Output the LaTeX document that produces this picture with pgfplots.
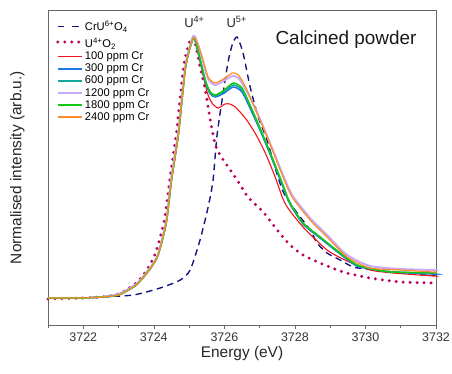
\documentclass[border=0pt]{standalone}
\usepackage{pgfplots}
\pgfplotsset{compat=1.18}
\usepackage{fontspec}
\setmainfont{Liberation Sans}
\definecolor{cnavy}{RGB}{20,20,130}
\definecolor{cuo}{RGB}{185,0,95}
\definecolor{cred}{RGB}{240,20,20}
\definecolor{cblue}{RGB}{30,120,230}
\definecolor{cteal}{RGB}{20,165,155}
\definecolor{clilac}{RGB}{200,170,245}
\definecolor{cgreen}{RGB}{20,200,20}
\definecolor{corange}{RGB}{255,140,40}
\begin{document}
\begin{tikzpicture}[x=1bp,y=1bp]
\useasboundingbox (0,0) rectangle (452,373);
\begin{axis}[
  at={(48bp,48bp)}, anchor=south west,
  scale only axis, width=388bp, height=315bp,
  xmin=3721, xmax=3732, ymin=0, ymax=3.15,
  clip=false,
  xtick={3722,3724,...,3732}, minor xtick={3721,3723,...,3731},
  ytick=\empty,
  tick align=outside, xtick pos=bottom,
  major tick length=4bp, minor tick length=3bp,
  axis line style={draw=black!60, line width=0.8pt},
  every tick/.style={black!60, line width=0.6pt},
  /pgf/number format/assume math mode=true,
  /pgf/number format/set thousands separator={},
  ticklabel style={font=\fontsize{12.5}{14}\selectfont, text=black!80},
  xlabel={Energy (eV)},
  ylabel={Normalised intensity (arb.u.)},
  label style={font=\fontsize{15.5}{18}\selectfont, text=black!85},
  xlabel style={yshift=2bp},
  ylabel style={yshift=16bp},
  legend style={at={(0.018,0.975)}, anchor=north west, draw=none, fill=none,
    font=\fontsize{11.2}{12}\selectfont, row sep=-1.2bp, inner sep=1bp,
    nodes={inner xsep=1.5bp}, cells={anchor=west}},
  legend image code/.code={\draw[#1] (0bp,0bp) -- (24bp,0bp);},
]
% CrU6+O4
\addplot[cnavy, line width=1.4pt, dash pattern=on 6.5pt off 4.5pt, smooth, tension=0.4,
  legend image code/.code={\draw[cnavy, line width=1.7pt] (0bp,0bp) -- (7.5bp,0bp) (14.5bp,0bp) -- (24bp,0bp);}] coordinates {
(3721.0,0.27) (3722.0,0.27) (3722.48,0.28) (3723.42,0.30) (3724.18,0.37) (3724.75,0.45)
(3725.03,0.55) (3725.31,0.85) (3725.54,1.18) (3725.68,1.45) (3725.80,1.92) (3726.08,2.58)
(3726.22,2.80) (3726.36,2.88) (3726.53,2.72) (3726.73,2.38) (3726.96,2.08) (3727.21,1.85)
(3727.44,1.57) (3727.67,1.33) (3728.0,1.15) (3728.43,0.95) (3728.63,0.82) (3728.91,0.72)
(3729.28,0.65) (3729.65,0.58) (3730.04,0.56) (3730.8,0.53) (3731.63,0.50) (3732,0.50)};
\addlegendentry{CrU\textsuperscript{6+}O\textsubscript{4}}
% UO2
\addplot[cuo, line width=3.3pt, dash pattern=on 0pt off 7pt, line cap=round, smooth, tension=0.4] coordinates {
(3721.0,0.26) (3722.0,0.27) (3722.5,0.28) (3723.0,0.31) (3723.5,0.42) (3723.8,0.55)
(3724.05,0.72) (3724.3,1.05) (3724.45,1.45) (3724.65,1.95) (3724.85,2.60) (3725.05,2.87)
(3725.17,2.82) (3725.31,2.58) (3725.46,2.35) (3725.6,2.05) (3725.71,1.85) (3725.8,1.75)
(3725.97,1.65) (3726.36,1.45) (3726.67,1.28) (3727.10,1.13) (3727.5,0.95) (3727.86,0.80)
(3728.23,0.70) (3728.71,0.62) (3729.37,0.53) (3730.13,0.47) (3731.0,0.43) (3732,0.42)};
\addlegendentry{\rule{0pt}{13bp}U\textsuperscript{4+}O\textsubscript{2}}
% 100 ppm
\addplot[cred, line width=1.1pt, smooth, tension=0.4, legend image post style={line width=1.6pt}] coordinates {
(3721.0,0.27) (3722.0,0.27) (3722.5,0.28) (3723.0,0.30) (3723.5,0.40) (3723.8,0.52)
(3724.1,0.68) (3724.35,1.02) (3724.5,1.45) (3724.7,1.92) (3724.9,2.58) (3725.12,2.87)
(3725.25,2.72) (3725.51,2.33) (3725.65,2.22) (3725.82,2.17) (3726.02,2.21) (3726.15,2.21)
(3726.31,2.18) (3726.59,2.07) (3726.87,1.92) (3727.16,1.72) (3727.44,1.48) (3727.64,1.28)
(3727.8,1.17) (3728.23,0.98) (3728.91,0.75) (3729.48,0.64) (3730.13,0.55) (3730.78,0.52)
(3731.92,0.49) (3732,0.49)};
\addlegendentry{100 ppm Cr}
% 300 ppm
\addplot[cblue, line width=1.5pt, smooth, tension=0.4, legend image post style={line width=1.6pt}] coordinates {
(3721.0,0.27) (3722.0,0.27) (3722.5,0.28) (3723.0,0.30) (3723.5,0.40) (3723.8,0.52)
(3724.1,0.68) (3724.35,1.02) (3724.5,1.45) (3724.7,1.92) (3724.9,2.58) (3725.12,2.87)
(3725.25,2.74) (3725.46,2.43) (3725.6,2.31) (3725.75,2.28) (3726.0,2.32) (3726.25,2.38)
(3726.50,2.33) (3726.79,2.12) (3727.07,1.90) (3727.35,1.66) (3727.64,1.40) (3727.86,1.21)
(3728.23,1.01) (3728.71,0.87) (3729.28,0.71) (3729.76,0.59) (3730.33,0.55) (3730.78,0.53)
(3731.92,0.51) (3732,0.51)};
\addlegendentry{300 ppm Cr}
% 600 ppm
\addplot[cteal, line width=1.5pt, smooth, tension=0.4, legend image post style={line width=1.6pt}] coordinates {
(3721.0,0.27) (3722.0,0.27) (3722.5,0.28) (3723.0,0.30) (3723.5,0.40) (3723.8,0.52)
(3724.1,0.68) (3724.35,1.02) (3724.5,1.45) (3724.7,1.92) (3724.9,2.58) (3725.12,2.87)
(3725.25,2.75) (3725.46,2.44) (3725.6,2.32) (3725.75,2.29) (3726.0,2.34) (3726.25,2.40)
(3726.50,2.35) (3726.79,2.14) (3727.07,1.91) (3727.35,1.67) (3727.64,1.41) (3727.86,1.22)
(3728.23,1.02) (3728.71,0.88) (3729.28,0.72) (3729.76,0.60) (3730.33,0.55) (3730.78,0.53)
(3731.92,0.52) (3732,0.52)};
\addlegendentry{600 ppm Cr}
% 1200 ppm
\addplot[clilac, line width=2pt, smooth, tension=0.4] coordinates {
(3721.0,0.27) (3722.0,0.27) (3722.5,0.28) (3723.0,0.31) (3723.5,0.41) (3723.8,0.53)
(3724.1,0.69) (3724.35,1.04) (3724.5,1.48) (3724.7,1.95) (3724.9,2.60) (3725.12,2.89)
(3725.25,2.81) (3725.37,2.67) (3725.54,2.46) (3725.74,2.40) (3726.02,2.45) (3726.22,2.49)
(3726.40,2.47) (3726.6,2.36) (3726.79,2.23) (3727.07,2.01) (3727.35,1.77) (3727.64,1.52)
(3727.92,1.30) (3728.43,1.07) (3728.91,0.90) (3729.48,0.70) (3730.13,0.59) (3731.0,0.56)
(3731.92,0.55) (3732,0.55)};
\addlegendentry{1200 ppm Cr}
% 1800 ppm
\addplot[cgreen, line width=1.5pt, smooth, tension=0.4, legend image post style={line width=1.7pt}] coordinates {
(3721.0,0.27) (3722.0,0.27) (3722.5,0.28) (3723.0,0.30) (3723.5,0.40) (3723.8,0.52)
(3724.1,0.68) (3724.35,1.02) (3724.5,1.45) (3724.7,1.92) (3724.9,2.58) (3725.12,2.87)
(3725.25,2.75) (3725.46,2.45) (3725.6,2.33) (3725.75,2.30) (3726.0,2.35) (3726.25,2.42)
(3726.50,2.37) (3726.79,2.15) (3727.07,1.92) (3727.35,1.68) (3727.64,1.42) (3727.86,1.22)
(3728.23,1.02) (3728.71,0.88) (3729.28,0.72) (3729.76,0.60) (3730.33,0.55) (3730.78,0.53)
(3731.92,0.52) (3732,0.52)};
\addlegendentry{1800 ppm Cr}
% 2400 ppm
\addplot[corange, line width=1.2pt, smooth, tension=0.4, legend image post style={line width=1.6pt}] coordinates {
(3721.0,0.27) (3722.0,0.27) (3722.5,0.28) (3723.0,0.30) (3723.5,0.40) (3723.8,0.52)
(3724.1,0.68) (3724.35,1.02) (3724.5,1.45) (3724.7,1.92) (3724.9,2.58) (3725.12,2.87)
(3725.25,2.80) (3725.37,2.68) (3725.54,2.48) (3725.74,2.42) (3726.02,2.47) (3726.22,2.52)
(3726.40,2.50) (3726.6,2.38) (3726.79,2.23) (3727.07,2.00) (3727.35,1.76) (3727.64,1.50)
(3727.92,1.28) (3728.43,1.05) (3728.91,0.88) (3729.48,0.68) (3730.13,0.57) (3731.0,0.55)
(3731.92,0.53) (3732,0.53)};
\addlegendentry{2400 ppm Cr}
\node[font=\fontsize{13}{15}\selectfont, text=black!85] at (axis cs:3725.15,3.03) {U\textsuperscript{4+}};
\node[font=\fontsize{13}{15}\selectfont, text=black!85] at (axis cs:3726.35,3.03) {U\textsuperscript{5+}};
\node[font=\fontsize{19}{22}\selectfont, text=black!90] at (axis cs:3729.45,2.85) {Calcined powder};
\end{axis}
\end{tikzpicture}
\end{document}
